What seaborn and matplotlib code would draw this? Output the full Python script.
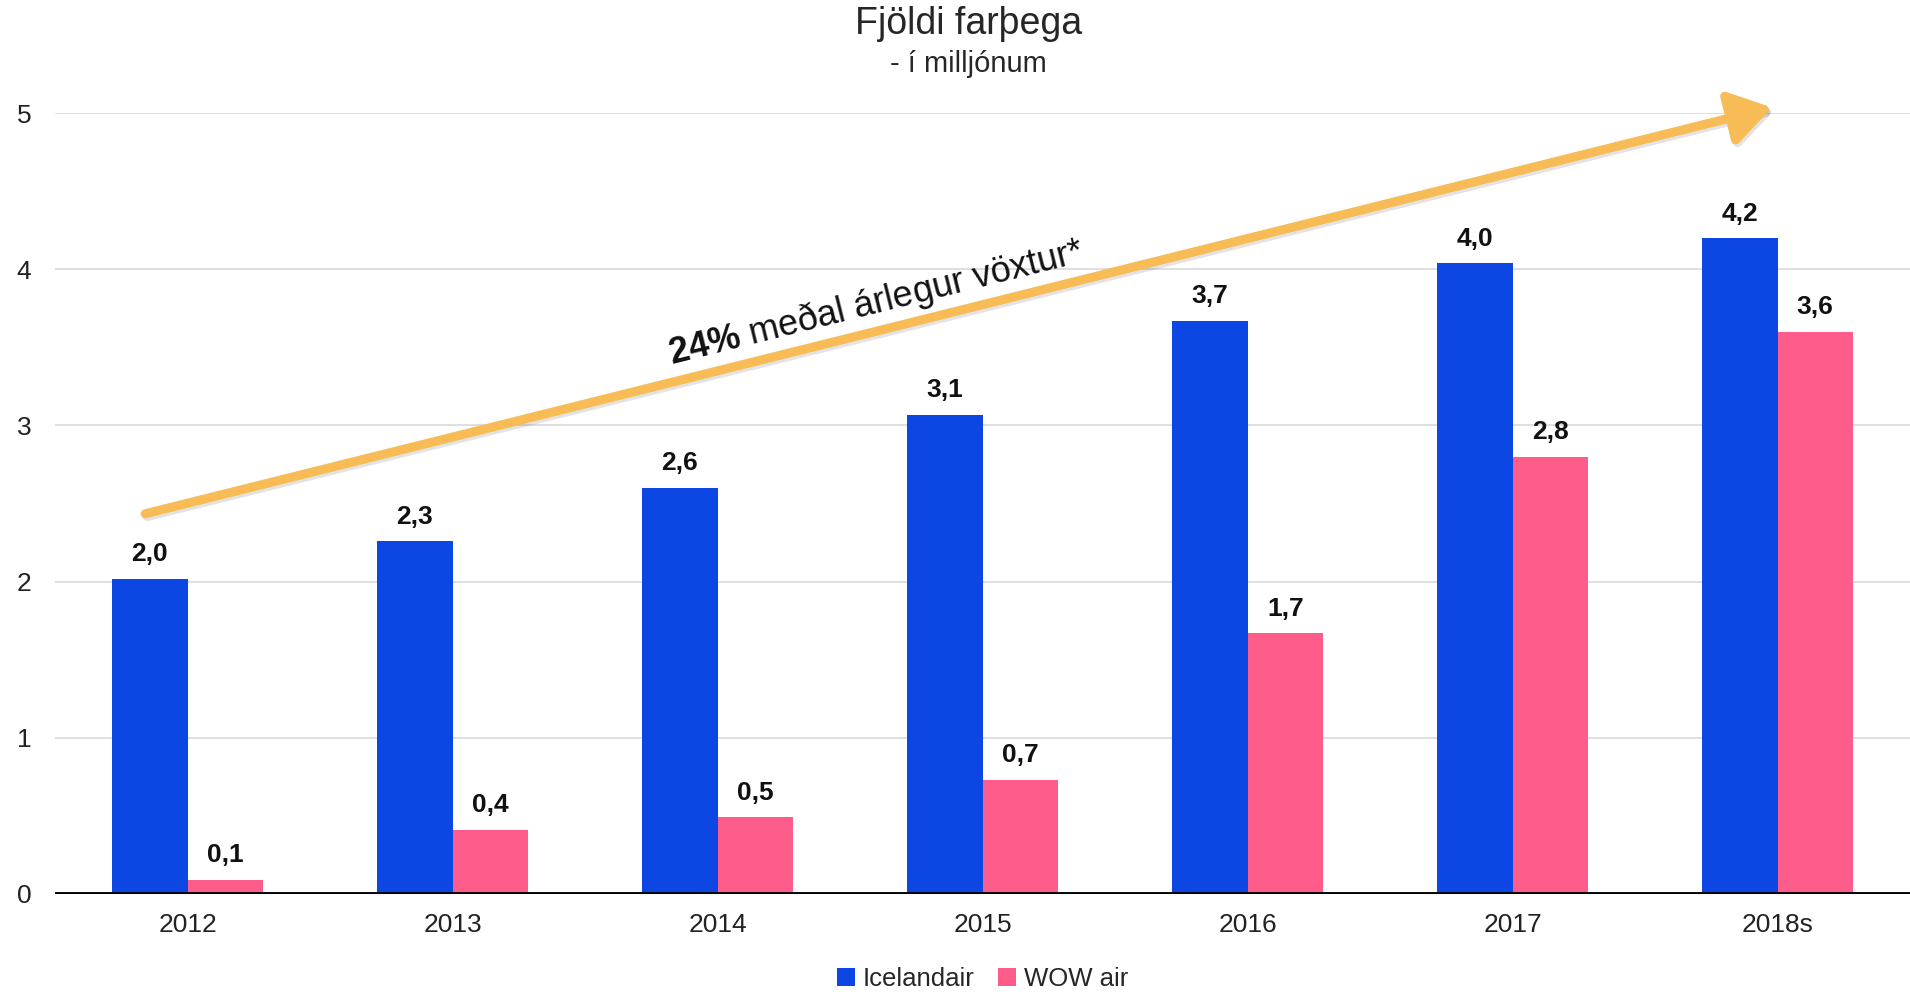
import numpy as np
import pandas as pd
import seaborn as sns
import matplotlib.pyplot as plt
from matplotlib.patches import FancyArrowPatch
import matplotlib.patheffects as pe

years = ["2012", "2013", "2014", "2015", "2016", "2017", "2018s"]
icelandair = [2.02, 2.26, 2.60, 3.07, 3.67, 4.04, 4.20]
wow_air = [0.09, 0.41, 0.49, 0.73, 1.67, 2.80, 3.60]
airlines = ["Icelandair", "WOW air"]
growth_start = (-0.17, 2.43)
growth_end = (5.99, 5.04)

df = pd.DataFrame({
    "year": years * 2,
    "value": icelandair + wow_air,
    "airline": [airlines[0]] * len(years) + [airlines[1]] * len(years),
})

sns.set_theme(style="white")
plt.rcParams["font.family"] = ["Liberation Sans", "DejaVu Sans"]
plt.rcParams["mathtext.fontset"] = "custom"
plt.rcParams["mathtext.bf"] = "Liberation Sans:bold"
plt.rcParams["mathtext.rm"] = "Liberation Sans"

fig = plt.figure(figsize=(19.1, 9.92), dpi=100)
ax = fig.add_axes([0.0288, 0.0988, 0.9712, 0.7872])

sns.barplot(data=df, x="year", y="value", hue="airline",
            palette=["#0C46E3", "#FE5C8A"], width=0.57, saturation=1,
            linewidth=0, ax=ax)

for cont in ax.containers:
    labels = [f"{v:.1f}".replace(".", ",") for v in cont.datavalues]
    ax.bar_label(cont, labels=labels, padding=9, fontsize=19,
                 fontweight="bold", color="#111111")

ax.set_ylim(0, 5)
ax.set_xlim(-0.5, 6.5)
ax.set_yticks(range(0, 6))
ax.yaxis.grid(True, color="#D9D9D9", lw=1.2)
ax.set_axisbelow(True)
ax.axhline(0, color="black", lw=3.5, zorder=5)
for s in ax.spines.values():
    s.set_visible(False)
ax.tick_params(axis="y", length=0, pad=17, labelsize=19, labelcolor="#222222")
ax.tick_params(axis="x", length=0, pad=14, labelsize=19, labelcolor="#222222")
ax.set_xlabel("")
ax.set_ylabel("")

# growth arrow
arrow = FancyArrowPatch(growth_start, growth_end, arrowstyle="-|>,head_length=14,head_width=9",
                        color="#F8BC56", lw=6.5, clip_on=False, zorder=6,
                        mutation_scale=1.8,
                        path_effects=[pe.SimpleLineShadow(offset=(1.5, -2), alpha=0.12),
                                      pe.Normal()])
ax.add_patch(arrow)

ax.text(0.443, 0.757, r"$\bf{24\%}$ meðal árlegur vöxtur*", transform=ax.transAxes,
        rotation=14, rotation_mode="anchor", ha="center", va="center",
        fontsize=26, color="#111111")

fig.text(0.507, 0.976, "Fjöldi farþega", ha="center", va="center", fontsize=27)
fig.text(0.507, 0.935, "- í milljónum", ha="center", va="center", fontsize=21)

handles, labs = ax.get_legend_handles_labels()
ax.legend(handles, labs, loc="center", bbox_to_anchor=(0.5, -0.109), ncol=2,
          frameon=False, fontsize=18.5, handlelength=0.7, handleheight=0.7,
          handletextpad=0.3, columnspacing=0.9)

fig.savefig("out.png", dpi=100)
